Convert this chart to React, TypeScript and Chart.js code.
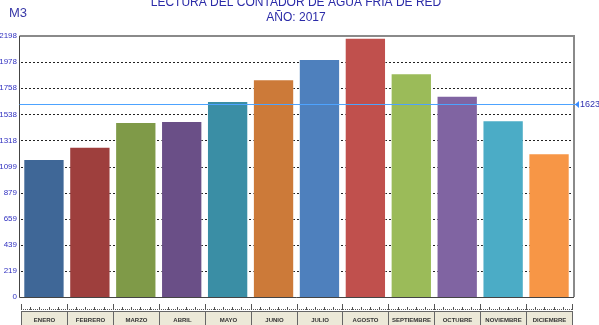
import React, { useEffect, useRef } from "react";
import { Chart, registerables } from "chart.js";

Chart.register(...registerables);

const months = [
  "ENERO", "FEBRERO", "MARZO", "ABRIL", "MAYO", "JUNIO",
  "JULIO", "AGOSTO", "SEPTIEMBRE", "OCTUBRE", "NOVIEMBRE", "DICIEMBRE",
];
const readings = [1162, 1266, 1474, 1482, 1650, 1833, 2004, 2184, 1884, 1695, 1488, 1210];
const barColors = [
  "#3f6797", "#9e3f3d", "#7f9a48", "#6a4f87", "#3a8ea5", "#cc7a39",
  "#4e80bd", "#c0504d", "#9bbb59", "#8064a2", "#4bacc6", "#f79646",
];
const yMax = 2198;
const yTickValues = [0, 219.8, 439.6, 659.4, 879.2, 1099, 1318.8, 1538.6, 1758.4, 1978.2, 2198];
const yTickLabels = ["0", "219", "439", "659", "879", "1099", "1318", "1538", "1758", "1978", "2198"];
const averageValue = 1623;
const titleLines = ["LECTURA DEL CONTADOR DE AGUA FRIA DE RED", "AÑO: 2017"];
const unitLabel = "M3";

const decorations = {
  id: "decorations",
  beforeDatasetsDraw(chart: any) {
    const { ctx, chartArea, scales } = chart;
    const y = scales.y;
    ctx.save();
    // dashed horizontal grid
    ctx.strokeStyle = "#222";
    ctx.lineWidth = 1;
    ctx.setLineDash([2, 2]);
    yTickValues.forEach((v, i) => {
      if (i === 0 || i === yTickValues.length - 1) return;
      const py = Math.round(y.getPixelForValue(v)) + 0.5;
      ctx.beginPath();
      ctx.moveTo(chartArea.left, py);
      ctx.lineTo(chartArea.right + 2, py);
      ctx.stroke();
    });
    ctx.restore();
  },
  afterDraw(chart: any) {
    const { ctx, chartArea, scales } = chart;
    const x = scales.x;
    const y = scales.y;
    const left = chartArea.left - 1.5;
    const right = chartArea.right + 2;
    const top = chartArea.top;
    const bottom = chartArea.bottom;
    ctx.save();

    // frame
    ctx.setLineDash([]);
    ctx.strokeStyle = "#8a8a8a";
    ctx.lineWidth = 2;
    ctx.beginPath();
    ctx.moveTo(left, top);
    ctx.lineTo(right, top);
    ctx.lineTo(right, bottom);
    ctx.stroke();
    ctx.strokeStyle = "#444";
    ctx.lineWidth = 1;
    ctx.beginPath();
    ctx.moveTo(left, top);
    ctx.lineTo(left, bottom + 0.5);
    ctx.lineTo(right, bottom + 0.5);
    ctx.stroke();

    // y tick labels
    ctx.fillStyle = "#3030c0";
    ctx.font = "8px 'Liberation Sans', Arial, sans-serif";
    ctx.textAlign = "right";
    ctx.textBaseline = "middle";
    yTickValues.forEach((v, i) => {
      ctx.fillText(yTickLabels[i], 17, y.getPixelForValue(v));
    });

    // average line
    const ay = Math.round(y.getPixelForValue(averageValue)) + 0.5;
    ctx.strokeStyle = "#4da3ff";
    ctx.lineWidth = 1.2;
    ctx.beginPath();
    ctx.moveTo(left, ay);
    ctx.lineTo(right + 3, ay);
    ctx.stroke();
    ctx.fillStyle = "#3a8cff";
    ctx.beginPath();
    ctx.moveTo(right + 1, ay);
    ctx.lineTo(right + 5, ay - 3.5);
    ctx.lineTo(right + 5, ay + 3.5);
    ctx.closePath();
    ctx.fill();
    ctx.fillStyle = "#3030b0";
    ctx.font = "9px 'Liberation Sans', Arial, sans-serif";
    ctx.textAlign = "left";
    ctx.fillText(String(averageValue), right + 6, ay);

    // ruler under the plot
    const n = months.length;
    const step = (x.getPixelForValue(1) - x.getPixelForValue(0));
    const x0 = x.getPixelForValue(0) - step / 2;
    ctx.strokeStyle = "#555";
    ctx.lineWidth = 1;
    ctx.setLineDash([1, 1]);
    ctx.beginPath();
    ctx.moveTo(x0, 309.5);
    ctx.lineTo(x0 + n * step, 309.5);
    ctx.stroke();
    ctx.setLineDash([]);
    for (let i = 0; i <= n; i++) {
      const bx = Math.round(x0 + i * step) + 0.5;
      ctx.beginPath();
      ctx.moveTo(bx, 304);
      ctx.lineTo(bx, 310);
      ctx.stroke();
      if (i < n) {
        for (let k = 1; k < 5; k++) {
          const mx = Math.round(x0 + i * step + (k * step) / 5) + 0.5;
          ctx.beginPath();
          ctx.moveTo(mx, 307);
          ctx.lineTo(mx, 310);
          ctx.stroke();
        }
      }
    }

    // category label boxes
    ctx.font = "bold 6px 'Liberation Sans', Arial, sans-serif";
    ctx.textAlign = "center";
    ctx.textBaseline = "middle";
    for (let i = 0; i < n; i++) {
      const bx = Math.round(x0 + i * step) + 0.5;
      const bw = Math.round(x0 + (i + 1) * step) - Math.round(x0 + i * step);
      ctx.fillStyle = "#ece9d8";
      ctx.fillRect(bx, 311.5, bw, 20);
      ctx.strokeStyle = "#666";
      ctx.strokeRect(bx, 311.5, bw, 20);
      ctx.fillStyle = "#333";
      ctx.fillText(months[i], bx + bw / 2, 320.5);
    }

    // titles
    ctx.fillStyle = "#2b2ba8";
    ctx.font = "12px 'Liberation Sans', Arial, sans-serif";
    ctx.textAlign = "center";
    ctx.textBaseline = "alphabetic";
    ctx.fillText(titleLines[0], 296, 5.5);
    ctx.fillText(titleLines[1], 296, 20.5);
    ctx.textAlign = "left";
    ctx.fillStyle = "#3a3aa8";
    ctx.font = "13px 'Liberation Sans', Arial, sans-serif";
    ctx.fillText(unitLabel, 9, 16.8);

    ctx.restore();
  },
};

export default function App() {
  const canvasRef = useRef<HTMLCanvasElement | null>(null);

  useEffect(() => {
    if (!canvasRef.current) return;
    const chart = new Chart(canvasRef.current, {
      type: "bar",
      data: {
        labels: months,
        datasets: [
          {
            data: readings,
            backgroundColor: barColors,
            borderColor: "rgba(255,255,255,0.45)",
            borderWidth: 1,
            barPercentage: 0.9,
            categoryPercentage: 1,
          },
        ],
      },
      options: {
        animation: false,
        responsive: false,
        maintainAspectRatio: false,
        layout: { padding: { left: 21, right: 27, top: 36, bottom: 28 } },
        plugins: {
          legend: { display: false },
          title: { display: false },
          tooltip: { enabled: false },
        },
        scales: {
          x: { display: false, offset: true },
          y: { display: false, min: 0, max: yMax },
        },
      },
      plugins: [decorations],
    });
    return () => chart.destroy();
  }, []);

  return (
    <div style={{ position: "fixed", left: 0, top: 0, width: 599, height: 325, background: "#fff" }}>
      <canvas ref={canvasRef} width={599} height={325} style={{ display: "block" }} />
    </div>
  );
}
